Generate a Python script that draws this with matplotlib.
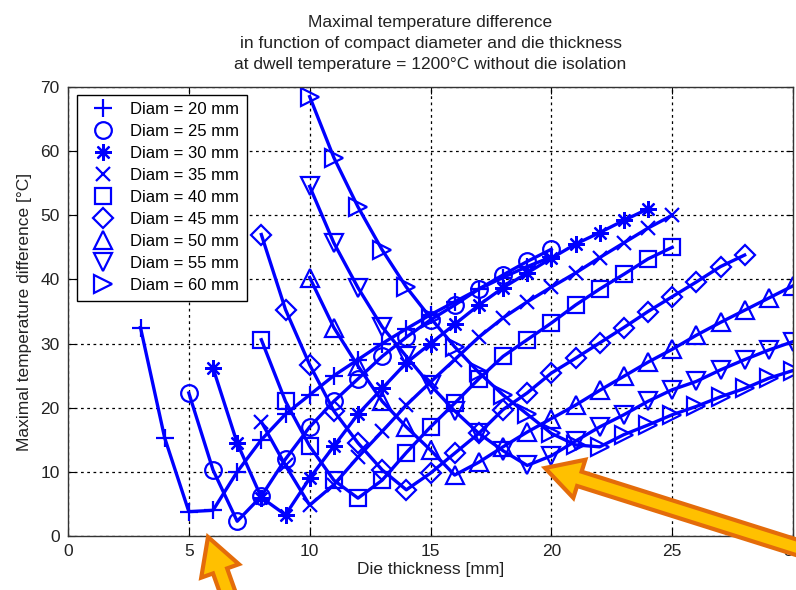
import matplotlib
matplotlib.use("Agg")
import matplotlib.pyplot as plt
from matplotlib.lines import Line2D
from matplotlib.patches import FancyArrow
from matplotlib.transforms import IdentityTransform

########### DATA ###########
diameters = [20, 25, 30, 35, 40, 45, 50, 55, 60]

thick_20 = list(range(3, 21))
temp_20 = [32.5, 15.3, 3.8, 4.0, 10.0, 15.0, 19.0, 22.0, 25.0, 27.5, 30.0, 32.3,
           34.5, 36.5, 38.5, 40.3, 42.0, 43.5]

thick_25 = list(range(5, 21))
temp_25 = [22.3, 10.3, 2.3, 6.2, 12.0, 17.0, 21.0, 24.5, 28.0, 31.0, 33.7, 36.0,
           38.5, 40.7, 42.8, 44.7]

thick_30 = list(range(6, 25))
temp_30 = [26.2, 14.5, 6.0, 3.3, 9.0, 14.0, 19.0, 23.0, 27.0, 30.0, 33.0, 36.0,
           38.7, 41.0, 43.3, 45.5, 47.3, 49.2, 51.0]

thick_35 = list(range(8, 26))
temp_35 = [17.8, 11.0, 4.8, 8.0, 12.3, 16.3, 20.4, 24.0, 27.5, 31.0, 34.0, 36.5,
           38.8, 41.0, 43.4, 45.7, 48.0, 50.0]

thick_40 = list(range(8, 26))
temp_40 = [30.6, 21.0, 14.0, 8.7, 5.9, 8.7, 13.0, 17.0, 20.7, 24.5, 28.0, 30.6,
           33.2, 36.0, 38.5, 40.8, 43.2, 45.0]

thick_45 = list(range(8, 29))
temp_45 = [47.0, 35.3, 26.7, 19.5, 14.5, 10.3, 7.2, 9.8, 12.9, 16.0, 19.7, 22.3,
           25.4, 27.7, 30.1, 32.5, 35.0, 37.3, 39.6, 42.0, 43.8]

thick_50 = list(range(10, 31))
temp_50 = [40.3, 32.5, 26.5, 21.0, 17.0, 13.4, 9.5, 11.5, 13.9, 16.2, 18.3, 20.4,
           22.7, 24.9, 27.1, 29.1, 31.3, 33.3, 35.2, 37.1, 39.0]

thick_55 = list(range(10, 31))
temp_55 = [54.5, 45.7, 38.7, 32.6, 28.0, 23.5, 19.5, 16.0, 13.3, 11.0, 12.5, 14.8,
           17.0, 18.9, 21.0, 22.8, 24.1, 25.9, 27.5, 29.0, 30.3]

thick_60 = list(range(10, 31))
temp_60 = [68.5, 59.0, 51.3, 44.6, 38.8, 34.0, 29.5, 25.5, 22.0, 19.0, 16.0, 14.2,
           13.9, 15.8, 17.3, 18.9, 20.2, 21.7, 23.0, 24.6, 25.8]

thicknesses = [thick_20, thick_25, thick_30, thick_35, thick_40,
               thick_45, thick_50, thick_55, thick_60]
temperatures = [temp_20, temp_25, temp_30, temp_35, temp_40,
                temp_45, temp_50, temp_55, temp_60]
############################

MARKERS = ['+', 'o', (8, 2, 0), 'x', 's', 'D', '^', 'v', '>']
MSIZES = [13, 12, 12, 9.5, 12, 10.5, 13, 13, 13]
BLUE = (0, 0, 1)
FONT = ['Liberation Sans', 'DejaVu Sans']

fig = plt.figure(figsize=(7.96, 5.90), dpi=100)
ax = fig.add_axes([68 / 796, 54 / 590, 725 / 796, 449 / 590])

for d, x, y, m, ms in zip(diameters, thicknesses, temperatures, MARKERS, MSIZES):
    ax.plot(x, y, color=BLUE, linewidth=2.4, marker=m, markersize=ms,
            markerfacecolor='none', markeredgecolor=BLUE, markeredgewidth=1.6,
            label=f"Diam = {d} mm")

ax.set_xlim(0, 30)
ax.set_ylim(0, 70)
ax.set_xticks(range(0, 31, 5))
ax.set_yticks(range(0, 71, 10))
ax.grid(True, color='k', linestyle=(0, (2.2, 2.8)), linewidth=0.9)
ax.tick_params(direction='in', top=True, right=True, length=5, labelsize=12.5, pad=6)
for lbl in ax.get_xticklabels() + ax.get_yticklabels():
    lbl.set_family(FONT)
    lbl.set_color('#222222')
for sp in ax.spines.values():
    sp.set_linewidth(1.0)
    sp.set_color('#333333')

ax.set_xlabel("Die thickness [mm]", family=FONT, fontsize=12.5, labelpad=2, color='#222222')
ax.set_ylabel("Maximal temperature difference [°C]", family=FONT, fontsize=12.5,
              labelpad=6, color='#222222')
ax.set_title("Maximal temperature difference\n"
             "in function of compact diameter and die thickness\n"
             "at dwell temperature = 1200°C without die isolation",
             family=FONT, fontsize=12.5, linespacing=1.5, pad=13, color='#222222')

handles = [Line2D([], [], color=BLUE, linestyle='none', marker=m, markersize=ms,
                  markerfacecolor='none', markeredgecolor=BLUE, markeredgewidth=1.6)
           for m, ms in zip(MARKERS, MSIZES)]
labels = [f"Diam = {d} mm" for d in diameters]
leg = ax.legend(handles, labels, loc='upper left', bbox_to_anchor=(0.012, 0.983),
                borderaxespad=0, fancybox=False, framealpha=1, edgecolor='k',
                prop={'family': FONT, 'size': 12},
                labelspacing=0.42, handlelength=2.2, handletextpad=0.55,
                borderpad=0.45)
leg.get_frame().set_linewidth(1.0)

# orange annotation arrows (display pixels, y up)
arrow_style = dict(width=15, head_width=40, head_length=36, length_includes_head=True,
                   facecolor='#FFC000', edgecolor='#E46C0A', linewidth=3,
                   transform=IdentityTransform())
fig.add_artist(FancyArrow(805, 40, -260, 82, **arrow_style))
fig.add_artist(FancyArrow(234, -20, -26, 73, **arrow_style))

fig.savefig("out.png", dpi=100)
